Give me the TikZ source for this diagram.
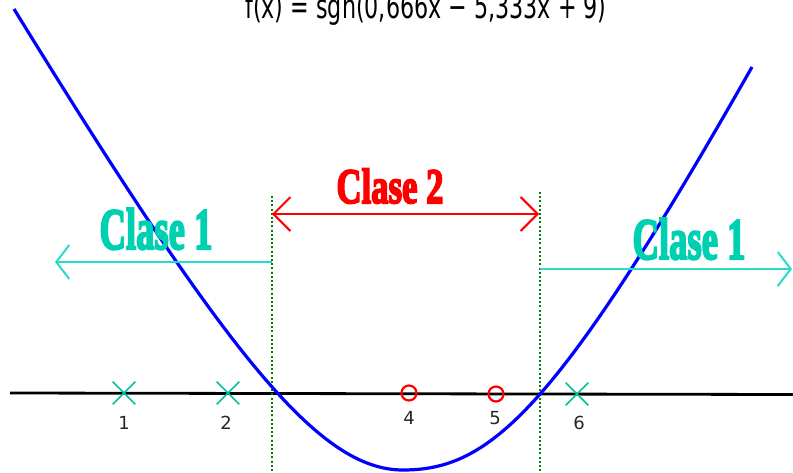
\documentclass[tikz,border=0pt]{standalone}
\usepackage{fontspec}
\setmainfont{DejaVu Sans}
\newfontfamily\titlefont{DejaVu Sans Condensed}
\newfontfamily\clasefont[FakeBold=4]{Liberation Serif Bold}
\usetikzlibrary{arrows.meta, shapes.misc}
\definecolor{claseteal}{RGB}{0,208,178}
\definecolor{crossteal}{RGB}{0,194,156}
\definecolor{arrowteal}{RGB}{40,220,200}
\definecolor{borderdark}{RGB}{0,128,0}
\newcommand{\clasetext}[2]{{\clasefont\scalebox{1}[#1]{#2}}}

\begin{document}
\begin{tikzpicture}[
      x=1pt, y=-1pt,
      curve/.style={draw=blue, line width=3.2pt},
      axis/.style={draw=black, line width=2.8pt},
      border/.style={draw=borderdark, line width=2.8pt, dash pattern=on 2pt off 2.2pt},
      classone/.style={draw=arrowteal, line width=2pt, -{Straight Barb[length=13pt, width=34pt, line width=2pt]}},
      classtwo/.style={draw=red, line width=2pt, {Straight Barb[length=17pt, width=34pt, line width=2pt]}-{Straight Barb[length=17pt, width=34pt, line width=2pt]}},
      crossmark/.style={cross out, draw=crossteal, line width=1.7pt, minimum size=21pt, inner sep=0pt},
      circmark/.style={circle, draw=red, line width=2.2pt, minimum size=15pt, inner sep=0pt},
      idx/.style={font=\fontsize{18}{18}\selectfont, text=black!85, inner sep=0pt},
      clase/.style={anchor=base, inner sep=0pt, font=\fontsize{#1}{#1}\selectfont}
  ]
    \useasboundingbox (0,0) rectangle (793,472);

    % title, cut by the top edge
    \node[anchor=base, inner sep=0pt, font=\titlefont\fontsize{24.7}{26}\selectfont] (title) at (426,18) {\scalebox{1}[1.35]{f(x) = sgn(0,666x − 5,333x + 9)}};

    % axis and borders
    \coordinate (axl) at (10,393);
    \coordinate (axr) at (793,394.5);
    \coordinate (bl1) at (272,196);
    \coordinate (bl2) at (272,472);
    \coordinate (br1) at (540,192);
    \coordinate (br2) at (540,472);
    \draw[axis] (axl) -- (axr);
    \draw[border] (bl1) -- (bl2);
    \draw[border] (br1) -- (br2);

    % decision function
    \coordinate (cstart) at (14,9);
    \coordinate (cmin) at (403,470);
    \coordinate (cend) at (752,67);
    \draw[curve] (cstart) .. controls (230,360) and (320,470) .. (cmin)
                 .. controls (490,470) and (556,412) .. (cend);

    % class arrows
    \coordinate (c1l) at (55,262);
    \coordinate (c1lstart) at (272,262);
    \coordinate (c1r) at (792,269);
    \coordinate (c1rstart) at (540,269);
    \coordinate (c2l) at (272,214);
    \coordinate (c2r) at (539,214);
    \draw[classone] (c1lstart) -- (c1l);
    \draw[classone] (c1rstart) -- (c1r);
    \draw[classtwo] (c2l) -- (c2r);

    \node[clase=36.6, text=claseteal] (clase1l) at (156,249) {\clasetext{1.6}{Clase 1}};
    \node[clase=36.6, text=claseteal] (clase1r) at (689,259) {\clasetext{1.6}{Clase 1}};
    \node[clase=34.7, text=red] (clase2) at (390,203) {\clasetext{1.43}{Clase 2}};

    % samples
    \node[crossmark] (p1) at (124,393) {};
    \node[crossmark] (p2) at (228,393) {};
    \node[circmark] (p4) at (409,393) {};
    \node[circmark] (p5) at (496,394) {};
    \node[crossmark] (p6) at (577,394) {};

    \node[idx] (n1) at (124,423) {1};
    \node[idx] (n2) at (226,423) {2};
    \node[idx] (n4) at (409,418) {4};
    \node[idx] (n5) at (495,418) {5};
    \node[idx] (n6) at (579,423) {6};
  \end{tikzpicture}
\end{document}
